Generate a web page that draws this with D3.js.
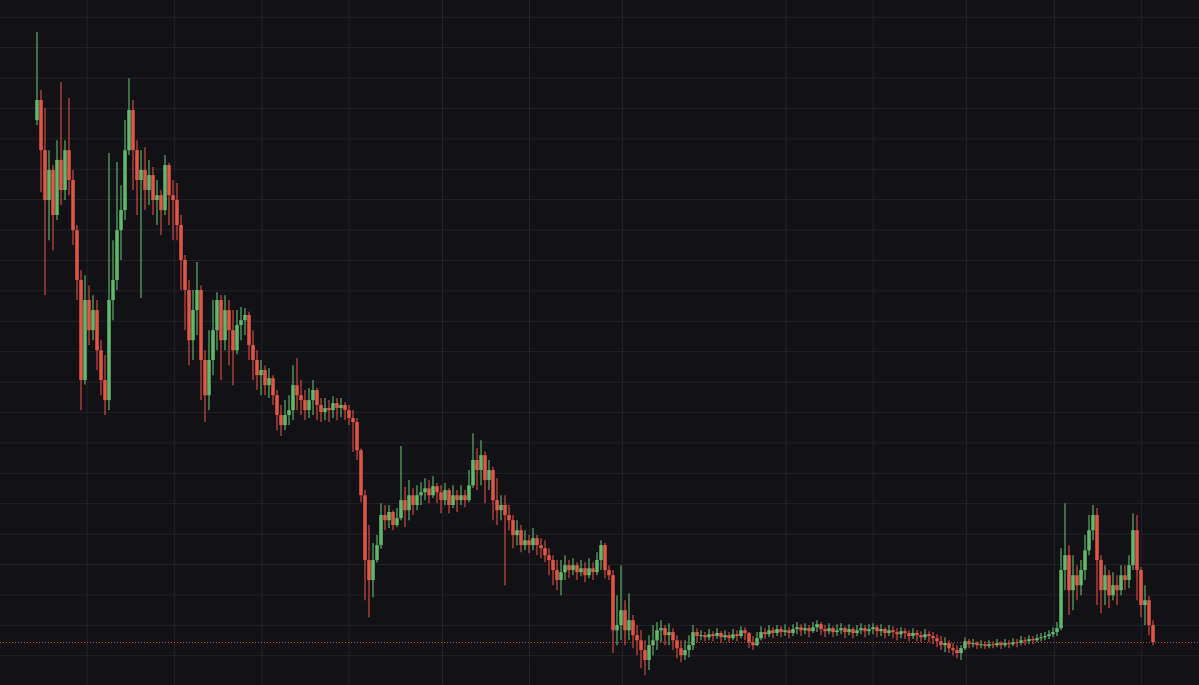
<!DOCTYPE html>
<html><head><meta charset="utf-8">
<script src="https://cdn.jsdelivr.net/npm/d3@7"></script>
<style>html,body{margin:0;padding:0;background:#111116;overflow:hidden}</style>
</head><body><svg id="chart" width="1199" height="685"></svg>
<script>
const opens = [18.60,19.26,17.61,15.97,16.96,15.48,17.29,16.30,17.61,16.63,
14.98,13.34,10.05,12.68,11.69,12.35,11.03,10.05,9.39,12.68,
13.34,14.98,15.64,17.61,18.93,17.61,16.63,16.96,16.30,16.79,
15.97,16.13,15.64,17.12,16.13,15.97,15.15,14.00,13.01,11.36,
12.35,13.01,10.71,9.55,10.71,11.69,12.68,11.36,12.35,11.69,
11.03,11.86,12.02,12.19,11.20,10.71,10.21,10.38,9.88,10.11,
9.55,8.90,8.57,8.90,9.06,9.88,9.55,9.39,9.06,9.39,
9.72,9.23,9.00,9.13,9.06,9.29,9.13,9.23,9.06,8.80,
8.67,7.74,6.26,4.13,3.47,4.13,4.62,5.61,5.44,5.71,
5.28,5.51,6.10,5.77,6.26,5.94,6.26,6.36,6.49,6.26,
6.56,6.36,6.10,6.43,5.94,6.26,6.10,6.26,6.10,6.59,
7.42,7.09,7.58,6.76,7.09,6.10,5.77,5.94,5.61,5.44,
4.95,5.11,4.62,4.78,4.62,4.85,4.62,4.52,4.29,4.13,
3.80,3.47,3.73,3.96,3.80,3.96,3.73,3.86,3.63,3.86,
3.73,4.13,4.62,3.80,3.63,1.82,1.99,2.48,1.82,2.15,
1.66,1.49,1.17,0.84,1.33,1.49,1.82,1.89,1.66,1.76,
1.49,1.23,1.00,1.17,1.33,1.76,1.63,1.66,1.59,1.69,
1.63,1.73,1.59,1.66,1.56,1.69,1.63,1.82,1.73,1.43,
1.33,1.56,1.76,1.69,1.82,1.73,1.86,1.76,1.82,1.73,
1.86,1.92,1.82,1.89,1.79,1.92,2.02,1.86,1.79,1.89,
1.76,1.82,1.89,1.76,1.86,1.73,1.82,1.89,1.79,1.86,
1.92,1.79,1.86,1.73,1.82,1.76,1.69,1.79,1.73,1.63,
1.73,1.66,1.59,1.69,1.63,1.56,1.46,1.33,1.40,1.23,
1.17,1.07,1.23,1.46,1.36,1.40,1.33,1.36,1.30,1.36,
1.33,1.40,1.33,1.40,1.36,1.43,1.40,1.49,1.46,1.53,
1.49,1.56,1.59,1.63,1.69,1.76,1.89,3.80,4.29,3.14,
3.63,3.30,3.80,4.45,5.11,5.61,4.13,3.14,3.63,2.97,
3.30,3.14,3.63,3.47,3.96,5.11,3.80,2.65,2.81,1.99];

const highs = [21.50,19.59,19.00,17.61,17.12,17.94,19.85,17.94,19.33,16.96,
15.15,13.67,13.50,13.17,12.84,12.68,11.36,10.87,17.52,14.65,
17.22,16.46,18.60,19.98,19.26,17.94,17.61,17.71,17.29,17.06,
16.63,16.30,17.45,17.20,16.63,16.53,15.48,14.16,13.34,13.01,
13.93,13.17,11.03,11.69,12.68,12.94,12.84,12.84,12.68,12.35,
12.35,12.45,12.42,12.30,11.69,11.03,10.71,10.54,10.44,10.21,
9.72,9.23,9.39,9.55,10.54,10.77,10.05,9.72,9.78,10.05,
9.80,9.46,9.46,9.39,9.52,9.46,9.46,9.32,9.23,9.06,
8.80,7.80,6.43,5.28,4.69,4.95,6.00,5.94,5.94,5.77,
5.84,7.88,6.53,6.76,6.49,6.59,6.69,6.82,6.76,6.89,
6.66,6.59,6.66,6.49,6.59,6.43,6.59,6.43,7.09,8.30,
7.81,8.07,7.70,7.42,7.20,6.82,6.26,6.26,5.94,5.61,
5.44,5.28,5.11,4.95,5.18,4.95,4.85,4.78,4.52,4.29,
4.13,4.13,4.29,4.13,4.19,4.06,4.13,4.06,4.19,4.06,
4.39,4.78,4.70,3.96,3.80,2.97,3.96,2.81,3.04,2.32,
1.99,1.82,1.49,1.66,1.99,2.09,2.15,1.99,2.05,1.89,
1.66,1.49,1.49,1.66,1.99,1.89,1.82,1.76,1.86,1.79,
1.89,1.79,1.82,1.76,1.86,1.82,1.95,1.92,1.76,1.63,
1.76,1.95,1.89,1.99,1.92,1.99,1.95,2.02,1.92,2.02,
2.09,2.02,2.05,1.99,2.09,2.15,2.08,1.99,2.05,1.95,
2.02,2.05,1.95,2.02,1.92,1.99,2.05,1.99,2.02,2.05,
1.99,2.02,1.92,1.99,1.95,1.89,1.92,1.89,1.82,1.89,
1.82,1.79,1.86,1.79,1.76,1.69,1.63,1.59,1.49,1.40,
1.33,1.33,1.59,1.53,1.53,1.46,1.49,1.46,1.49,1.46,
1.53,1.46,1.53,1.49,1.56,1.53,1.63,1.59,1.66,1.63,
1.69,1.73,1.76,1.82,1.92,2.09,4.52,6.00,4.62,4.29,
3.96,4.13,4.95,5.61,5.94,5.84,4.29,3.96,3.80,3.73,
3.63,3.96,3.96,4.29,5.67,5.61,3.90,3.30,2.95,2.15];

const lows = [18.44,16.23,12.84,14.65,14.32,15.31,15.81,15.97,16.13,14.49,
12.68,9.06,9.90,11.20,11.36,10.38,9.55,8.90,9.06,12.02,
13.01,14.00,15.31,17.45,16.30,15.48,12.75,15.64,15.81,15.48,
15.15,14.82,15.48,15.15,14.65,14.65,13.01,11.69,10.54,10.71,
11.53,9.39,8.67,9.06,10.21,11.03,10.05,11.03,10.54,9.88,
10.90,11.36,11.53,10.71,10.05,9.72,9.55,9.55,9.46,9.23,
8.40,8.21,8.40,8.57,8.73,9.06,8.90,8.73,8.80,8.90,
8.73,8.67,8.73,8.67,8.80,8.73,8.83,8.73,8.57,7.68,
7.42,6.03,2.81,2.25,2.91,4.05,4.50,5.11,5.18,5.11,
5.21,5.44,5.21,5.44,5.61,5.77,5.94,6.10,6.00,6.17,
6.00,5.67,5.94,5.67,5.84,5.71,5.94,5.87,6.03,6.50,
6.43,6.59,6.00,6.43,5.44,5.28,5.44,3.30,5.11,4.52,
4.62,4.39,4.45,4.36,4.45,4.29,4.19,4.06,3.63,3.30,
3.14,2.97,3.47,3.53,3.63,3.47,3.60,3.40,3.53,3.47,
3.63,3.80,3.53,3.47,1.07,1.33,1.49,1.33,1.49,1.23,
1.00,0.57,0.34,0.51,1.00,1.17,1.43,1.33,1.33,1.17,
0.90,0.77,0.84,0.93,1.17,1.43,1.49,1.46,1.49,1.46,
1.53,1.40,1.49,1.43,1.49,1.46,1.56,1.49,1.23,1.17,
1.30,1.49,1.53,1.59,1.56,1.63,1.59,1.63,1.56,1.63,
1.69,1.63,1.69,1.59,1.73,1.76,1.66,1.59,1.69,1.59,
1.63,1.69,1.56,1.66,1.56,1.63,1.69,1.59,1.66,1.69,
1.59,1.63,1.56,1.63,1.56,1.49,1.56,1.53,1.46,1.53,
1.46,1.43,1.49,1.43,1.36,1.26,1.17,1.10,1.07,1.00,
0.90,0.84,1.17,1.23,1.26,1.20,1.23,1.20,1.23,1.23,
1.26,1.20,1.26,1.23,1.30,1.26,1.33,1.33,1.36,1.36,
1.43,1.46,1.49,1.53,1.59,1.63,1.82,3.14,2.32,2.48,
2.81,2.97,3.47,4.29,4.78,2.65,2.38,2.65,2.55,2.81,
2.65,2.97,3.14,3.20,3.80,2.81,2.25,1.99,1.66,1.33];

const closes = [19.26,17.61,15.97,16.96,15.48,17.29,16.30,17.61,16.63,14.98,
13.34,10.05,12.68,11.69,12.35,11.03,10.05,9.39,12.68,13.34,
14.98,15.64,17.61,18.93,17.61,16.63,16.96,16.30,16.79,15.97,
16.13,15.64,17.12,16.13,15.97,15.15,14.00,13.01,11.36,12.35,
13.01,10.71,9.55,10.71,11.69,12.68,11.36,12.35,11.69,11.03,
11.86,12.02,12.19,11.20,10.71,10.21,10.38,9.88,10.11,9.55,
8.90,8.57,8.90,9.06,9.88,9.55,9.39,9.06,9.39,9.72,
9.23,9.00,9.13,9.06,9.29,9.13,9.23,9.06,8.80,8.67,
7.74,6.26,4.13,3.47,4.13,4.62,5.61,5.44,5.71,5.28,
5.51,6.10,5.77,6.26,5.94,6.26,6.36,6.49,6.26,6.56,
6.36,6.10,6.43,5.94,6.26,6.10,6.26,6.10,6.59,7.42,
7.09,7.58,6.76,7.09,6.10,5.77,5.94,5.61,5.44,4.95,
5.11,4.62,4.78,4.62,4.85,4.62,4.52,4.29,4.13,3.80,
3.47,3.73,3.96,3.80,3.96,3.73,3.86,3.63,3.86,3.73,
4.13,4.62,3.80,3.63,1.82,1.99,2.48,1.82,2.15,1.66,
1.49,1.17,0.84,1.33,1.49,1.82,1.89,1.66,1.76,1.49,
1.23,1.00,1.17,1.33,1.76,1.63,1.66,1.59,1.69,1.63,
1.73,1.59,1.66,1.56,1.69,1.63,1.82,1.73,1.43,1.33,
1.56,1.76,1.69,1.82,1.73,1.86,1.76,1.82,1.73,1.86,
1.92,1.82,1.89,1.79,1.92,2.02,1.86,1.79,1.89,1.76,
1.82,1.89,1.76,1.86,1.73,1.82,1.89,1.79,1.86,1.92,
1.79,1.86,1.73,1.82,1.76,1.69,1.79,1.73,1.63,1.73,
1.66,1.59,1.69,1.63,1.56,1.46,1.33,1.40,1.23,1.17,
1.07,1.23,1.46,1.36,1.40,1.33,1.36,1.30,1.36,1.33,
1.40,1.33,1.40,1.36,1.43,1.40,1.49,1.46,1.53,1.49,
1.56,1.59,1.63,1.69,1.76,1.89,3.80,4.29,3.14,3.63,
3.30,3.80,4.45,5.11,5.61,4.13,3.14,3.63,2.97,3.30,
3.14,3.63,3.47,3.96,5.11,3.80,2.65,2.81,1.99,1.43];

// grid tick values (price levels and bar positions)
const priceTicks = [1,2,3,4,5,6,7,8,9,10,11,12,13,14,15,16,17,18,19,20,21,22];
const timeTicks = [12.4,34.3,56.1,77.9,101.25,123,146.2,187.1,208.9,232.2,254.2,275.95];

const W = 1199, H = 685;
const bars = closes.map((c, i) => ({i, o: opens[i], h: highs[i], l: lows[i], c}));
const x = d3.scaleLinear().domain([0, bars.length - 1]).range([37, 1153]);
const y = d3.scaleLinear().domain([0.02, 22.55]).range([H, 0]);

const svg = d3.select("#chart");
svg.append("rect").attr("width", W).attr("height", H).attr("fill", "#111116");

svg.append("g").attr("class", "ygrid")
  .call(d3.axisLeft(y).tickValues(priceTicks).tickSize(-W).tickFormat(""));
svg.append("g").attr("class", "xgrid").attr("transform", `translate(0,${H})`)
  .call(d3.axisBottom(x).tickValues(timeTicks).tickSize(-H).tickFormat(""));
svg.selectAll(".ygrid .domain, .xgrid .domain").remove();
svg.selectAll(".ygrid line, .xgrid line").attr("stroke", "#222228").attr("stroke-width", 1);

const up = "#66c473", down = "#ef5b4a";
const upW = "#5cb067", downW = "#d04c40";
const bw = 3.6;
const g = svg.append("g").attr("class", "candles");
g.selectAll("line.wick").data(bars).join("line").attr("class", "wick")
  .attr("x1", d => x(d.i)).attr("x2", d => x(d.i))
  .attr("y1", d => y(d.h)).attr("y2", d => y(d.l))
  .attr("stroke", d => d.c >= d.o ? upW : downW).attr("stroke-width", 1.2);
g.selectAll("rect.body").data(bars).join("rect").attr("class", "body")
  .attr("x", d => x(d.i) - bw / 2).attr("width", bw)
  .attr("y", d => y(Math.max(d.o, d.c)))
  .attr("height", d => Math.max(1, Math.abs(y(d.o) - y(d.c))))
  .attr("fill", d => d.c >= d.o ? up : down).attr("fill-opacity", 0.88);

const last = closes[closes.length - 1];
svg.append("line").attr("x1", 0).attr("x2", W)
  .attr("y1", Math.round(y(last)) + 0.5).attr("y2", Math.round(y(last)) + 0.5)
  .attr("stroke", "#c8453c").attr("stroke-width", 1).attr("stroke-dasharray", "1,2");
</script></body></html>
